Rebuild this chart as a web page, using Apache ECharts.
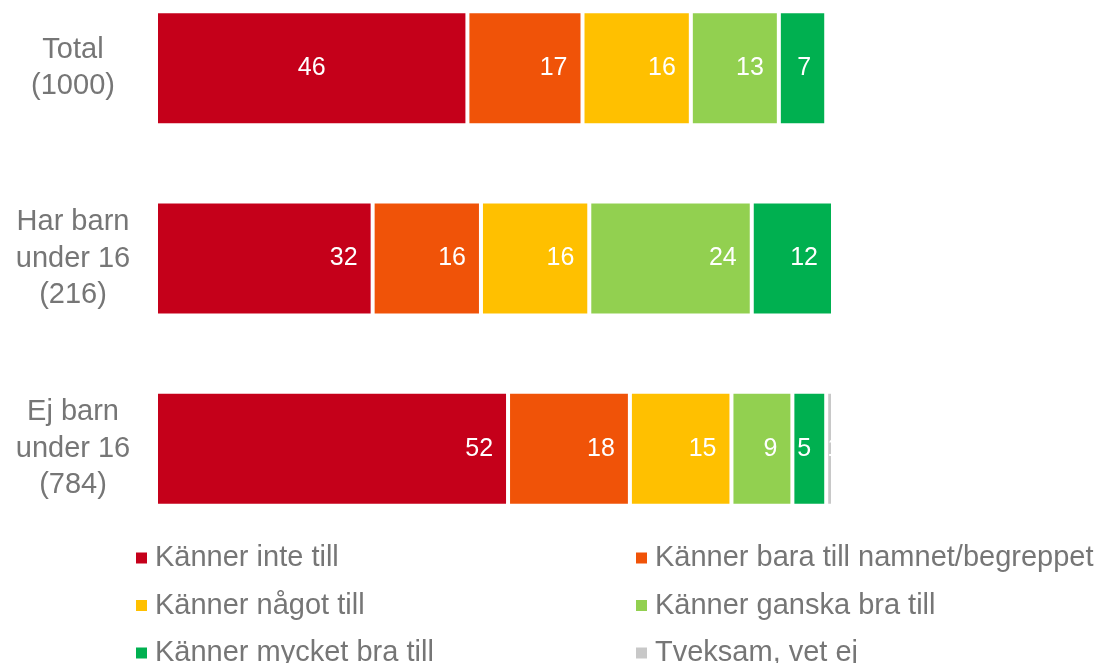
<!DOCTYPE html>
<html>
<head>
<meta charset="utf-8">
<script src="https://cdn.jsdelivr.net/npm/echarts@6/dist/echarts.min.js"></script>
<style>
  html, body { margin: 0; padding: 0; background: #fff; }
  #chart { width: 1104px; height: 663px; }
</style>
</head>
<body>
<div id="chart"></div>
<script>
// groups, top to bottom
const categories = ['Total\n(1000)', 'Har barn\nunder 16\n(216)', 'Ej barn\nunder 16\n(784)'];

const seriesNames = [
  'Känner inte till',
  'Känner bara till namnet/begreppet',
  'Känner något till',
  'Känner ganska bra till',
  'Känner mycket bra till',
  'Tveksam, vet ej'
];

// percent per group (Total, Har barn, Ej barn)
const inteTill = [46, 32, 52];
const baraNamnet = [17, 16, 18];
const nagotTill = [16, 16, 15];
const ganskaBra = [13, 24, 9];
const mycketBra = [7, 12, 5];
const tveksam = [0, 0, 1];

const colors = ['#C5001A', '#F05308', '#FFC000', '#92D050', '#00B050', '#C8C8C8'];

const allValues = [inteTill, baraNamnet, nagotTill, ganskaBra, mycketBra, tveksam];

const FONT = 'Liberation Sans, Arial, sans-serif';

const chart = echarts.init(document.getElementById('chart'));

const series = allValues.map((vals, si) => ({
  name: seriesNames[si],
  type: 'bar',
  stack: 'all',
  barWidth: 114,
  itemStyle: { color: colors[si], borderColor: '#fff', borderWidth: 2 },
  label: {
    show: true,
    position: si === 5 ? 'insideLeft' : 'insideRight',
    distance: si === 5 ? 1 : 15,
    color: '#fff',
    fontSize: 25,
    fontFamily: FONT,
    formatter: p => (p.value ? p.value : '')
  },
  data: vals.map((v, i) => {
    // the first Total segment has its label centred
    if (si === 0 && i === 0) return { value: v, label: { position: 'inside' } };
    return v;
  })
}));

// one legend per entry so the two columns line up like the original
const legends = seriesNames.map((name, k) => ({
  orient: 'horizontal',
  left: k % 2 ? 634 : 134,
  top: 543.5 + Math.floor(k / 2) * 47.5,
  padding: 0,
  itemWidth: 13,
  itemHeight: 13,
  icon: 'rect',
  textStyle: {
    fontSize: 29,
    color: '#767676',
    fontFamily: FONT,
    lineHeight: 24,
    padding: [0, 0, 0, 2]
  },
  data: [name]
}));

chart.setOption({
  animation: false,
  color: colors,
  grid: { left: 156, width: 677, top: -27, height: 571, outerBoundsMode: 'none' },
  xAxis: {
    type: 'value',
    min: 0,
    max: 100,
    show: false
  },
  yAxis: {
    type: 'category',
    inverse: true,
    data: categories,
    axisLine: { show: false },
    axisTick: { show: false },
    axisLabel: {
      fontSize: 29,
      lineHeight: 36.5,
      color: '#767676',
      align: 'center',
      margin: 83,
      fontFamily: FONT
    }
  },
  legend: legends,
  series: series
});
</script>
</body>
</html>
